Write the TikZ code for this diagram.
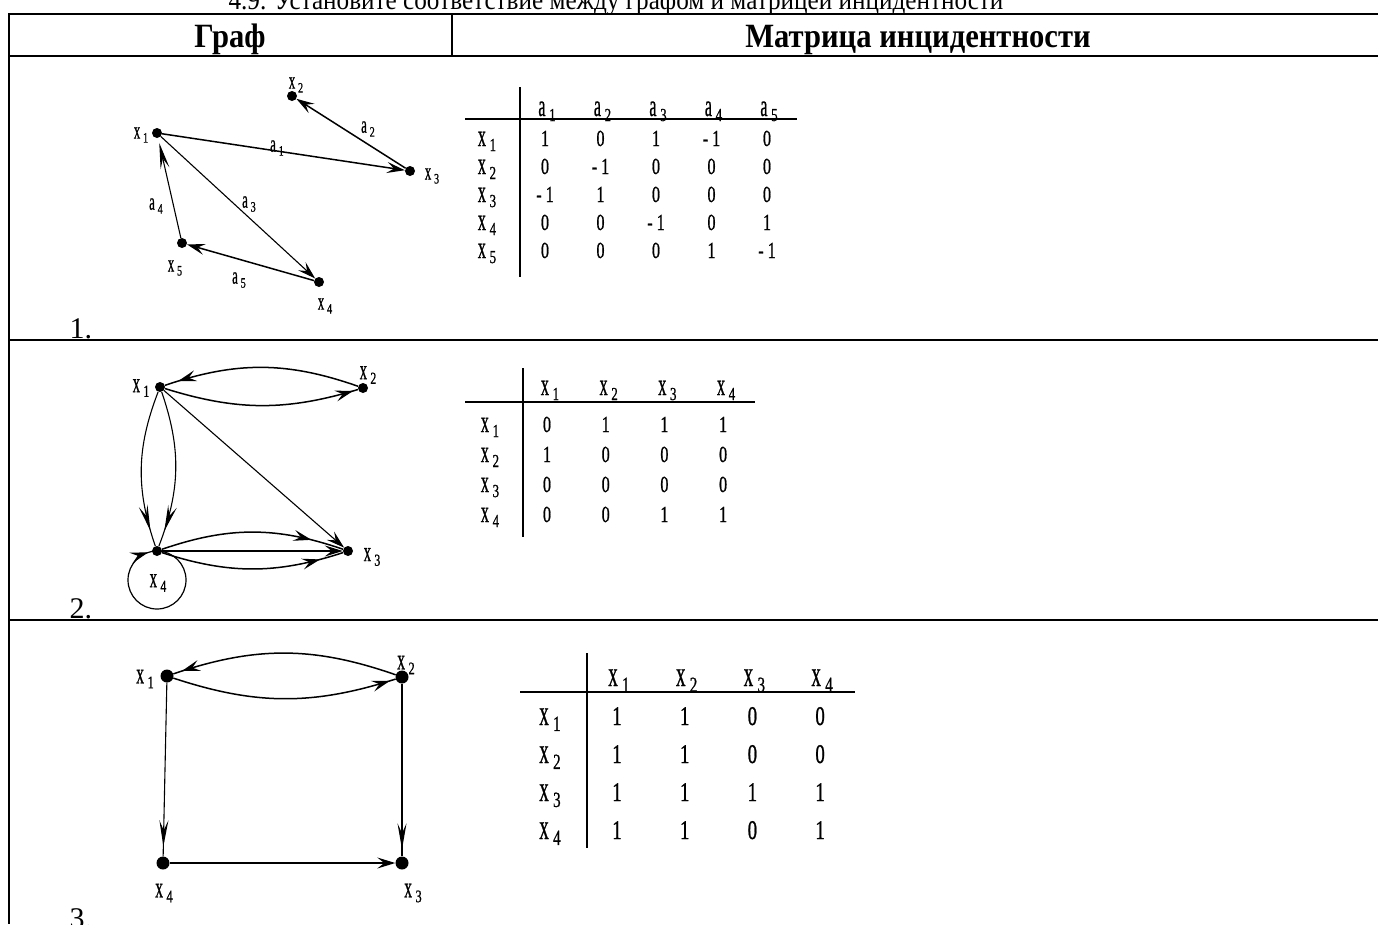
\documentclass[tikz,border=0pt]{standalone}
\usepackage{fontspec}
\setmainfont{Liberation Serif}
\newfontfamily\narrowfont[FakeStretch=0.7,FakeBold=0.8]{Liberation Serif}
\newfontfamily\tallfont[FakeStretch=0.9]{Liberation Serif}
\usepackage{graphicx}
\usetikzlibrary{arrows.meta,decorations.markings}

% letter with a lowered index, as in the figures
\newcommand\ix[2]{\scalebox{1}[1.35]{#1}\kern.16em\raisebox{-.22em}{\scalebox{.8}{#2}}}

\begin{document}
\begin{tikzpicture}[x=1pt,y=-1pt,
  >={Stealth[length=18pt,width=11pt,inset=7pt]},
  rule/.style={line width=2.4pt},
  mrule/.style={line width=2pt},
  vdot/.style={circle,fill,inner sep=0pt,minimum size=#1},
  vdot/.default=10pt,
  lbl/.style={font=\narrowfont\fontsize{#1}{#1}\selectfont,inner sep=0pt},
  cell/.style={font=\narrowfont\fontsize{#1}{#1}\selectfont,inner sep=0pt,anchor=base},
  head/.style={font=\tallfont\bfseries\fontsize{34}{34}\selectfont,anchor=base},
  link/.style={->,line width=1.5pt},
  tlink/.style={->,line width=1.1pt},
  arcline/.style={line width=1.5pt},
  vtip/.style={>={Stealth[length=26pt,width=9pt,inset=10pt]}},
  midarr/.style={postaction={decorate},decoration={markings,mark=at position #1 with {\arrow{>}}}}
]
\useasboundingbox (0,0) rectangle (1378,924);

% title and table
\node[font=\tallfont\fontsize{28}{28}\selectfont,anchor=base west] (title) at (225,9) {4.9. Установите соответствие между графом и матрицей инцидентности};
\draw[rule] (9,14) -- (1378,14);
\draw[rule] (9,56) -- (1378,56);
\draw[rule] (9,340) -- (1378,340);
\draw[rule] (9,620) -- (1378,620);
\draw[rule] (9,13) -- (9,924);
\draw[rule] (452,14) -- (452,56);
\node[head] (hgraph) at (230,47) {Граф};
\node[head] (hmatrix) at (918,47) {Матрица инцидентности};
\node[font=\fontsize{30}{30}\selectfont,anchor=base west] (n1) at (66,338) {1.};
\node[font=\fontsize{30}{30}\selectfont,anchor=base west] (n2) at (66,618) {2.};
\node[font=\fontsize{30}{30}\selectfont,anchor=base west] (n3) at (66,928) {3.};

% graph 1
\node[vdot] (g1x1) at (157,133) {};
\node[vdot] (g1x2) at (292,96) {};
\node[vdot] (g1x3) at (410,171) {};
\node[vdot] (g1x4) at (319,282) {};
\node[vdot] (g1x5) at (182,243) {};
\node[lbl=18] (g1l1) at (141,135) {\ix{x}{1}};
\node[lbl=18] (g1l2) at (296,85) {\ix{x}{2}};
\node[lbl=18] (g1l3) at (432,176) {\ix{x}{3}};
\node[lbl=18] (g1l4) at (325,306) {\ix{x}{4}};
\node[lbl=18] (g1l5) at (175,268) {\ix{x}{5}};
\draw[link] (g1x1) -- (g1x3);
\draw[link] (g1x3) -- (g1x2);
\draw[tlink] (g1x1) -- (g1x4);
\draw[tlink,vtip,shorten >=5pt] (g1x5) -- (g1x1);
\draw[link] (g1x4) -- (g1x5);
\node[lbl=18] (g1a1) at (277,148) {\ix{a}{1}};
\node[lbl=18] (g1a2) at (368,129) {\ix{a}{2}};
\node[lbl=18] (g1a3) at (249,204) {\ix{a}{3}};
\node[lbl=18] (g1a4) at (156,206) {\ix{a}{4}};
\node[lbl=18] (g1a5) at (239,280) {\ix{a}{5}};

% matrix 1
\draw[mrule] (520,87) -- (520,277);
\draw[rule] (465,119) -- (797,119);
\foreach \h in {1,...,5}
  \node[cell=23] (m1h\h) at ({547+55.5*(\h-1)},116) {\ix{a}{\h}};
\foreach \row [count=\r] in {{1,0,1,- 1,0},{0,- 1,0,0,0},{- 1,1,0,0,0},{0,0,- 1,0,1},{0,0,0,1,- 1}} {
  \node[cell=23] (m1x\r) at (487,{146+28*(\r-1)}) {\ix{x}{\r}};
  \foreach \v [count=\c] in \row
    \node[cell=23] (m1-\r-\c) at ({545+55.5*(\c-1)},{146+28*(\r-1)}) {\v};
}

% graph 2
\node[vdot] (g2x1) at (160,387) {};
\node[vdot] (g2x2) at (363,388) {};
\node[vdot] (g2x3) at (348,551) {};
\node[vdot] (g2x4) at (157,551) {};
\node[lbl=21] (g2l1) at (141,388) {\ix{x}{1}};
\node[lbl=21] (g2l2) at (368,375) {\ix{x}{2}};
\node[lbl=21] (g2l3) at (372,557) {\ix{x}{3}};
\node[lbl=21] (g2l4) at (158,583) {\ix{x}{4}};
\draw[arcline,midarr=-14pt] (g2x2) to[bend right=19] (g2x1);
\draw[arcline,midarr=-5pt] (g2x1) to[bend right=17] (g2x2);
\draw[tlink] (g2x1) -- (g2x3);
\draw[line width=1.1pt,vtip,midarr=-16pt] (g2x1) to[bend right=20] (g2x4);
\draw[line width=1.1pt,vtip,midarr=-16pt] (g2x1) to[bend left=20] (g2x4);
\draw[arcline,midarr=-33pt] (g2x4) to[bend left=19] (g2x3);
\draw[link] (g2x4) -- (g2x3);
\draw[arcline,midarr=-24pt] (g2x4) to[bend right=18] (g2x3);
\draw[line width=1.2pt,midarr=-9pt] (g2x4.center) arc[start angle=-90,end angle=270,radius=29];

% matrix 2
\draw[mrule] (523,368) -- (523,537);
\draw[rule] (465,402) -- (755,402);
\foreach \h in {1,...,4}
  \node[cell=23] (m2h\h) at ({550+58.7*(\h-1)},395) {\ix{x}{\h}};
\foreach \row [count=\r] in {{0,1,1,1},{1,0,0,0},{0,0,0,0},{0,0,1,1}} {
  \node[cell=23] (m2x\r) at (490,{432+30*(\r-1)}) {\ix{x}{\r}};
  \foreach \v [count=\c] in \row
    \node[cell=23] (m2-\r-\c) at ({547+58.7*(\c-1)},{432+30*(\r-1)}) {\v};
}

% graph 3
\node[vdot=13pt] (g3x1) at (167,676) {};
\node[vdot=13pt] (g3x2) at (402,677) {};
\node[vdot=13pt] (g3x3) at (402,863) {};
\node[vdot=13pt] (g3x4) at (163,863) {};
\node[lbl=22] (g3l1) at (145,679) {\ix{x}{1}};
\node[lbl=22] (g3l2) at (406,665) {\ix{x}{2}};
\node[lbl=22] (g3l3) at (413,893) {\ix{x}{3}};
\node[lbl=22] (g3l4) at (164,893) {\ix{x}{4}};
\draw[arcline,midarr=-9pt] (g3x2) to[bend right=19] (g3x1);
\draw[arcline,midarr=-6pt] (g3x1) to[bend right=18] (g3x2);
\draw[line width=1.1pt,vtip,midarr=-10pt] (g3x1) -- (g3x4);
\draw[line width=1.1pt,vtip,midarr=-7pt] (g3x2) -- (g3x3);
\draw[link] (g3x4) -- (g3x3);

% matrix 3
\draw[mrule] (587,653) -- (587,848);
\draw[rule] (520,692) -- (855,692);
\foreach \h in {1,...,4}
  \node[cell=27] (m3h\h) at ({619+67.7*(\h-1)},686) {\ix{x}{\h}};
\foreach \row [count=\r] in {{1,1,0,0},{1,1,0,0},{1,1,1,1},{1,1,0,1}} {
  \node[cell=27] (m3x\r) at (550,{725+38*(\r-1)}) {\ix{x}{\r}};
  \foreach \v [count=\c] in \row
    \node[cell=27] (m3-\r-\c) at ({617+67.7*(\c-1)},{725+38*(\r-1)}) {\v};
}
\end{tikzpicture}
\end{document}
